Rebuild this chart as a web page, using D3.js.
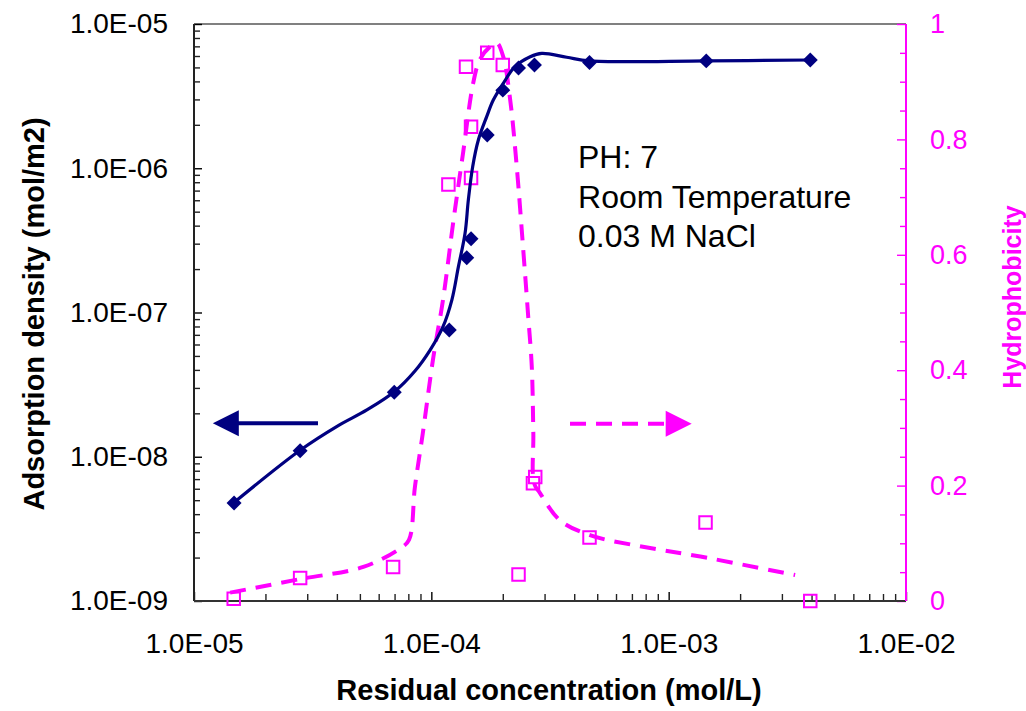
<!DOCTYPE html>
<html><head><meta charset="utf-8">
<script src="https://cdn.jsdelivr.net/npm/d3@7"></script>
<style>
body{margin:0;background:#fff}
text{font-family:"Liberation Sans",Arial,sans-serif}
</style>
</head><body>
<svg id="c" width="1026" height="711"></svg>
<script>
// ---- data ----
const conc = [1.475e-5, 2.8e-5, 6.98e-5, 1.19e-4, 1.41e-4, 1.47e-4, 1.72e-4, 2.0e-4, 2.33e-4, 2.72e-4, 4.64e-4, 1.44e-3, 3.95e-3];
const adsorption = [4.78e-9, 1.10e-8, 2.8e-8, 7.57e-8, 2.4e-7, 3.25e-7, 1.70e-6, 3.48e-6, 4.95e-6, 5.2e-6, 5.4e-6, 5.55e-6, 5.63e-6];

const hydroConc = [1.47e-5, 2.8e-5, 6.9e-5, 1.18e-4, 1.40e-4, 1.47e-4, 1.47e-4, 1.72e-4, 2.0e-4, 2.33e-4, 2.74e-4, 2.68e-4, 4.64e-4, 1.43e-3, 3.95e-3];
const hydrophobicity = [0.004, 0.040, 0.059, 0.722, 0.926, 0.822, 0.733, 0.950, 0.929, 0.046, 0.215, 0.204, 0.110, 0.136, 0.0];

const adsFitConc = [1.47e-5, 2.8e-5, 3.99e-5, 5.35e-5, 6.98e-5, 8.53e-5, 9.88e-5, 1.12e-4, 1.22e-4, 1.30e-4, 1.387e-4, 1.432e-4, 1.494e-4, 1.578e-4, 1.711e-4, 1.824e-4, 2.01e-4, 2.25e-4, 2.61e-4, 2.92e-4, 3.72e-4, 4.64e-4, 1.44e-3, 3.95e-3];
const adsFit = [4.8e-9, 1.11e-8, 1.62e-8, 2.11e-8, 2.82e-8, 3.93e-8, 5.49e-8, 7.98e-8, 1.22e-7, 2.07e-7, 3.54e-7, 6.03e-7, 1.03e-6, 1.57e-6, 2.28e-6, 2.97e-6, 3.88e-6, 5.06e-6, 5.93e-6, 6.26e-6, 5.88e-6, 5.55e-6, 5.55e-6, 5.63e-6];

const hydroFitConc = [1.42e-5, 2.8e-5, 5.17e-5, 7.38e-5, 8.05e-5, 8.53e-5, 9.20e-5, 1.02e-4, 1.12e-4, 1.24e-4, 1.36e-4, 1.50e-4, 1.60e-4, 1.77e-4, 1.89e-4, 2.01e-4, 2.15e-4, 2.29e-4, 2.44e-4, 2.56e-4, 2.65e-4, 2.69e-4, 2.71e-4, 2.87e-4, 3.48e-4, 4.66e-4, 7.10e-4, 1.36e-3, 3.41e-3];
const hydroFit = [0.0145, 0.038, 0.059, 0.091, 0.106, 0.198, 0.29, 0.423, 0.522, 0.660, 0.776, 0.897, 0.938, 0.961, 0.967, 0.943, 0.868, 0.753, 0.608, 0.493, 0.406, 0.291, 0.204, 0.187, 0.140, 0.114, 0.097, 0.077, 0.045];

const xTicks = [1e-5, 1e-4, 1e-3, 1e-2];
const xTickLabels = ["1.0E-05", "1.0E-04", "1.0E-03", "1.0E-02"];
const yTicks = [1e-9, 1e-8, 1e-7, 1e-6, 1e-5];
const yTickLabels = ["1.0E-09", "1.0E-08", "1.0E-07", "1.0E-06", "1.0E-05"];
const y2Ticks = [0, 0.2, 0.4, 0.6, 0.8, 1];
const y2TickLabels = ["0", "0.2", "0.4", "0.6", "0.8", "1"];

const xTitle = "Residual concentration (mol/L)";
const yTitle = "Adsorption density (mol/m2)";
const y2Title = "Hydrophobicity";
const noteLines = ["PH: 7", "Room Temperature", "0.03 M NaCl"];
const noteAt = [4.15e-4, 1.0e-6];
const arrowLeft = [[3.33e-5, 1.71e-8], [1.2e-5, 1.71e-8]];
const arrowRight = [[3.84e-4, 0.307], [1.25e-3, 0.307]];

// ---- chart ----
const NAVY = "#000080", MAG = "#FF00FF";
const svg = d3.select("#c");
svg.append("rect").attr("width", 1026).attr("height", 711).attr("fill", "#fff");

const L = 194, R = 906, T = 24, B = 601;
const x = d3.scaleLog().domain([1e-5, 1e-2]).range([L, R]);
const y = d3.scaleLog().domain([1e-9, 1e-5]).range([B, T]);
const y2 = d3.scaleLinear().domain([0, 1]).range([B, T]);

// minor tick values
const xMinor = [];
[-5, -4, -3].forEach(e => { for (let m = 2; m <= 9; m++) xMinor.push(m * Math.pow(10, e)); });
const yMinor = [];
[-9, -8, -7, -6].forEach(e => { for (let m = 2; m <= 9; m++) yMinor.push(m * Math.pow(10, e)); });
const y2Minor = d3.range(1, 20).map(i => i * 0.05).filter(v => Math.abs(v * 5 - Math.round(v * 5)) > 1e-6);

function style(g, color, fs) {
  g.select(".domain").remove();
  g.selectAll(".tick line").attr("stroke", color).attr("stroke-width", 1.4);
  g.selectAll(".tick text").attr("fill", color).style("font-size", fs + "px")
    .style("font-family", '"Liberation Sans", Arial, sans-serif');
}

// frame
svg.append("line").attr("x1", L).attr("x2", R).attr("y1", T).attr("y2", T).attr("stroke", "#808080").attr("stroke-width", 2);

// left axis
const gL = svg.append("g").attr("transform", `translate(${L},0)`);
gL.append("g").call(d3.axisLeft(y).tickValues(yMinor).tickFormat("").tickSizeInner(-6).tickSizeOuter(0)).call(g => style(g, "#222", 0));
gL.append("g").call(d3.axisLeft(y).tickValues(yTicks).tickFormat((d, i) => yTickLabels[i]).tickSizeInner(-8).tickSizeOuter(0).tickPadding(26)).call(g => style(g, "#000", 28));

// bottom axis
const gB = svg.append("g").attr("transform", `translate(0,${B})`);
gB.append("g").call(d3.axisBottom(x).tickValues(xMinor).tickFormat("").tickSizeInner(-7).tickSizeOuter(0)).call(g => style(g, "#222", 0));
gB.append("g").call(d3.axisBottom(x).tickValues(xTicks).tickFormat((d, i) => xTickLabels[i]).tickSizeInner(-9).tickSizeOuter(0).tickPadding(32)).call(g => style(g, "#000", 28));

// right axis
const gR = svg.append("g").attr("transform", `translate(${R},0)`);
gR.append("g").call(d3.axisRight(y2).tickValues(y2Minor).tickFormat("").tickSizeInner(-6).tickSizeOuter(0)).call(g => style(g, MAG, 0));
gR.append("g").call(d3.axisRight(y2).tickValues(y2Ticks).tickFormat((d, i) => y2TickLabels[i]).tickSizeInner(-9).tickSizeOuter(0).tickPadding(24)).call(g => style(g, MAG, 27));

// axis lines
svg.append("line").attr("x1", L).attr("x2", L).attr("y1", T).attr("y2", B).attr("stroke", "#222").attr("stroke-width", 2);
svg.append("line").attr("x1", L).attr("x2", R).attr("y1", B).attr("y2", B).attr("stroke", "#333").attr("stroke-width", 2);
svg.append("line").attr("x1", R).attr("x2", R).attr("y1", T).attr("y2", B).attr("stroke", MAG).attr("stroke-width", 2);

// hydrophobicity fit (dashed)
const lineH = d3.line().x((d, i) => x(hydroFitConc[i])).y(d => y2(d)).curve(d3.curveCatmullRom.alpha(0.5));
svg.append("path").attr("d", lineH(hydroFit)).attr("fill", "none").attr("stroke", MAG)
  .attr("stroke-width", 4).attr("stroke-dasharray", "16,10");

// hydrophobicity points
svg.append("g").selectAll("path").data(hydrophobicity).join("path")
  .attr("d", d3.symbol(d3.symbolSquare, 156))
  .attr("transform", (d, i) => `translate(${x(hydroConc[i])},${y2(d)})`)
  .attr("fill", "none").attr("stroke", MAG).attr("stroke-width", 2);

// adsorption fit
const lineA = d3.line().x((d, i) => x(adsFitConc[i])).y(d => y(d)).curve(d3.curveCatmullRom.alpha(0.5));
svg.append("path").attr("d", lineA(adsFit)).attr("fill", "none").attr("stroke", NAVY).attr("stroke-width", 3.2);

// adsorption points (diamonds)
svg.append("g").selectAll("path").data(adsorption).join("path")
  .attr("d", d3.symbol(d3.symbolSquare, 112))
  .attr("transform", (d, i) => `translate(${x(conc[i])},${y(d)}) rotate(45)`)
  .attr("fill", NAVY);

// arrows
function arrow(pts, yScale, color, dashed) {
  const x0 = x(pts[0][0]), y0 = yScale(pts[0][1]), x1 = x(pts[1][0]), y1 = yScale(pts[1][1]);
  const dir = Math.sign(x1 - x0), head = 26, half = 13;
  const xb = x1 - dir * head;
  svg.append("line").attr("x1", x0).attr("y1", y0).attr("x2", xb + dir * 2).attr("y2", y1)
    .attr("stroke", color).attr("stroke-width", 4).attr("stroke-dasharray", dashed ? "16,10" : null);
  svg.append("path").attr("d", `M${x1},${y1}L${xb},${y1 - half}L${xb},${y1 + half}Z`).attr("fill", color);
}
arrow(arrowLeft, y, NAVY, false);
arrow(arrowRight, y2, MAG, true);

// note text
const note = svg.append("text").attr("x", x(noteAt[0])).attr("y", 168).attr("fill", "#000").style("font-size", "32px");
noteLines.forEach((t, i) => note.append("tspan").attr("x", x(noteAt[0])).attr("dy", i === 0 ? 0 : 39.5).text(t));

// titles
svg.append("text").attr("x", (L + R) / 2 - 1).attr("y", 700).attr("text-anchor", "middle")
  .style("font-size", "29px").style("font-weight", "bold").attr("fill", "#000").text(xTitle);
svg.append("text").attr("transform", "translate(44,314) rotate(-90)").attr("text-anchor", "middle")
  .style("font-size", "29px").style("font-weight", "bold").attr("fill", "#000").text(yTitle);
svg.append("text").attr("transform", "translate(1021,297) rotate(-90)").attr("text-anchor", "middle")
  .style("font-size", "25px").style("font-weight", "bold").attr("fill", MAG).text(y2Title);
</script>
</body></html>
